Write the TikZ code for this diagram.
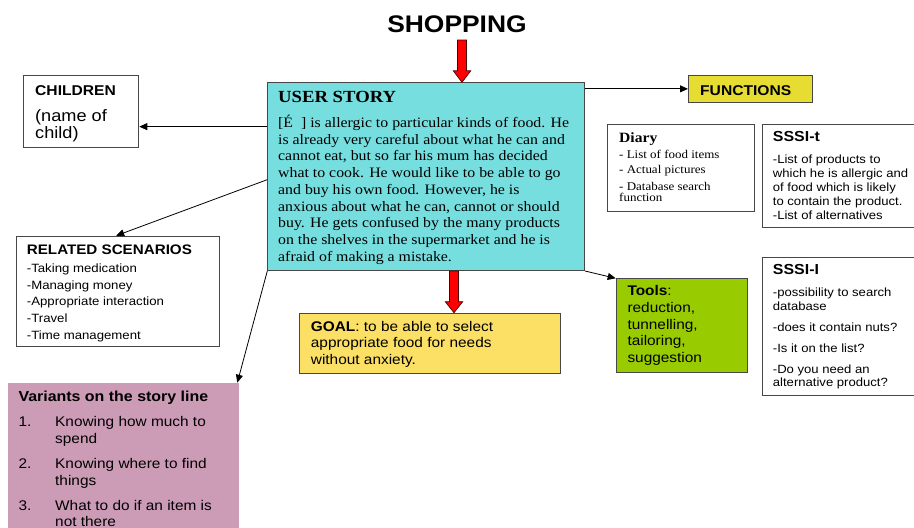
\documentclass[tikz,border=0pt]{standalone}
\usepackage{fontspec}
\setmainfont{Liberation Serif}[FakeStretch=1.1]
\setsansfont{Liberation Sans}[FakeStretch=1.1]
\usetikzlibrary{arrows.meta,calc}
\definecolor{uscyan}{RGB}{118,222,222}
\definecolor{funyellow}{RGB}{230,220,50}
\definecolor{goalyellow}{RGB}{252,224,102}
\definecolor{toolgreen}{RGB}{153,204,0}
\definecolor{varpink}{RGB}{204,156,182}
\newcommand\fsz[2]{\fontsize{#1}{#2}\selectfont}
\newcommand\vnum[1]{\makebox[36.7pt][l]{#1}}
\begin{document}
\begin{tikzpicture}[x=1pt,y=-1pt,
  box/.style={draw=black!72,line width=1pt,rectangle,anchor=north west,inner sep=0pt},
  txt/.style={anchor=base west,inner sep=0pt,align=left},
  conn/.style={draw=black,line width=0.8pt,-{Triangle[length=8pt,width=7pt]}},
  redblock/.style={fill=red,draw=black!70!red,line width=0.7pt,line join=miter}]
\useasboundingbox[fill=white] (0,0) rectangle (914,528);

% boxes
\node[box,fill=uscyan,minimum width=316.7pt,minimum height=187.7pt] (us) at (267.3,82.3) {};
\node[box,fill=funyellow,minimum width=123.7pt,minimum height=26.7pt] (fun) at (688,75) {};
\node[box,fill=white,minimum width=115pt,minimum height=71.7pt] (ch) at (23.3,75) {};
\node[box,fill=white,minimum width=203.3pt,minimum height=110.3pt] (rel) at (16,235.7) {};
\node[box,draw=none,fill=varpink,minimum width=231pt,minimum height=146pt] (var) at (7.3,382.7) {};
\node[box,fill=goalyellow,minimum width=260.7pt,minimum height=60.6pt] (goal) at (299.3,312.7) {};
\node[box,fill=toolgreen,minimum width=131pt,minimum height=93.4pt] (tools) at (615.7,278.3) {};
\node[box,fill=white,minimum width=147pt,minimum height=86.7pt] (diary) at (607.3,124) {};
\node[box,fill=white,minimum width=153pt,minimum height=103.3pt] (st) at (761.7,124) {};
\node[box,fill=white,minimum width=153pt,minimum height=138.3pt] (si) at (761.7,256.7) {};

% title
\node[anchor=base,inner sep=0pt,font=\sffamily\bfseries\fsz{24}{28}] (shop) at (457,32.3) {SHOPPING};

% texts (anchor at the baseline of the LAST line)
\node[txt,font=\rmfamily\bfseries\fsz{17}{20}] (ust) at (278,102.3) {USER STORY};
\node[txt,font=\rmfamily\fsz{14.4}{16.7}] (usb) at (278,261.1) {[É~~] is allergic to particular kinds of food. He\\
is already very careful about what he can and\\
cannot eat, but so far his mum has decided\\
what to cook. He would like to be able to go\\
and buy his own food. However, he is\\
anxious about what he can, cannot or should\\
buy. He gets confused by the many products\\
on the shelves in the supermarket and he is\\
afraid of making a mistake.};

\node[txt,font=\sffamily\bfseries\fsz{14.2}{17}] (funt) at (700,95) {FUNCTIONS};

\node[txt,font=\sffamily\bfseries\fsz{14.2}{17}] (cht) at (35,95) {CHILDREN};
\node[txt,font=\sffamily\fsz{16.5}{16.7}] (chb) at (35,138.4) {(name of\\child)};

\node[txt,font=\sffamily\bfseries\fsz{13.8}{16}] (relt) at (26.7,254) {RELATED SCENARIOS};
\node[txt,font=\sffamily\fsz{12}{16.6}] (relb) at (26.7,339.1) {-Taking medication\\-Managing money\\-Appropriate interaction\\-Travel\\-Time management};

\node[txt,font=\sffamily\bfseries\fsz{14.5}{17}] (vart) at (18.3,401.7) {Variants on the story line};
\node[txt,font=\sffamily\fsz{14}{16.7}] (varb) at (18.3,526.8) {\vnum{1.}Knowing how much to\\
\hspace*{36.7pt}spend\\[8.3pt]
\vnum{2.}Knowing where to find\\
\hspace*{36.7pt}things\\[8.3pt]
\vnum{3.}What to do if an item is\\
\hspace*{36.7pt}not there};

\node[txt,font=\sffamily\fsz{14}{16.7}] (goalt) at (310.7,364.4) {\textbf{GOAL}: to be able to select\\appropriate food for needs\\without anxiety.};

\node[txt,font=\sffamily\fsz{14}{16.7}] (toolt) at (627.3,362.5) {\textbf{Tools}:\\reduction,\\tunnelling,\\tailoring,\\suggestion};

\node[txt,font=\rmfamily\bfseries\fsz{14.2}{16}] (diat) at (619,142.3) {Diary};
\node[txt,font=\rmfamily\fsz{11.8}{11.7}] (diab) at (619,201.7) {- List of food items\\[3.3pt]- Actual pictures\\[5pt]- Database search\\function};

\node[txt,font=\sffamily\bfseries\fsz{14.5}{17}] (stt) at (772.7,141.7) {SSSI-t};
\node[txt,font=\sffamily\fsz{11.9}{14}] (stb) at (772.7,219.3) {-List of products to\\which he is allergic and\\of food which is likely\\to contain the product.\\-List of alternatives};

\node[txt,font=\sffamily\bfseries\fsz{14.5}{17}] (sit) at (772.7,274.3) {SSSI-I};
\node[txt,font=\sffamily\fsz{11.9}{13.5}] (sib) at (772.7,386.5) {-possibility to search\\database\\[7.5pt]-does it contain nuts?\\[7.5pt]-Is it on the list?\\[7.5pt]-Do you need an\\alternative product?};

% connectors
\draw[conn] (fun.west -| us.east) -- (fun.west);
\draw[conn] ([yshift=50pt]us.west) -- ([yshift=50pt]us.west -| ch.east);
\draw[conn] ([yshift=-3pt]us.west) -- ([xshift=-2pt]rel.north);
\draw[conn] (us.south west) -- ([xshift=-2pt]var.north east);
\draw[conn] (us.south east) -- (tools.north west);

% red block arrows
\coordinate (a1s) at (462,40);
\coordinate (a1e) at (a1s |- us.north);
\draw[redblock] ($(a1s)+(-4.5,0)$) -- ($(a1s)+(4.5,0)$) -- ($(a1e)+(4.5,-11.5)$) -- ($(a1e)+(8.7,-11.5)$) -- (a1e) -- ($(a1e)+(-8.7,-11.5)$) -- ($(a1e)+(-4.5,-11.5)$) -- cycle;
\coordinate (a2s) at (us.south -| 454,0);
\coordinate (a2e) at (a2s |- goal.north);
\draw[redblock] ($(a2s)+(-4.5,0)$) -- ($(a2s)+(4.5,0)$) -- ($(a2e)+(4.5,-11)$) -- ($(a2e)+(8.7,-11)$) -- (a2e) -- ($(a2e)+(-8.7,-11)$) -- ($(a2e)+(-4.5,-11)$) -- cycle;
\end{tikzpicture}
\end{document}
